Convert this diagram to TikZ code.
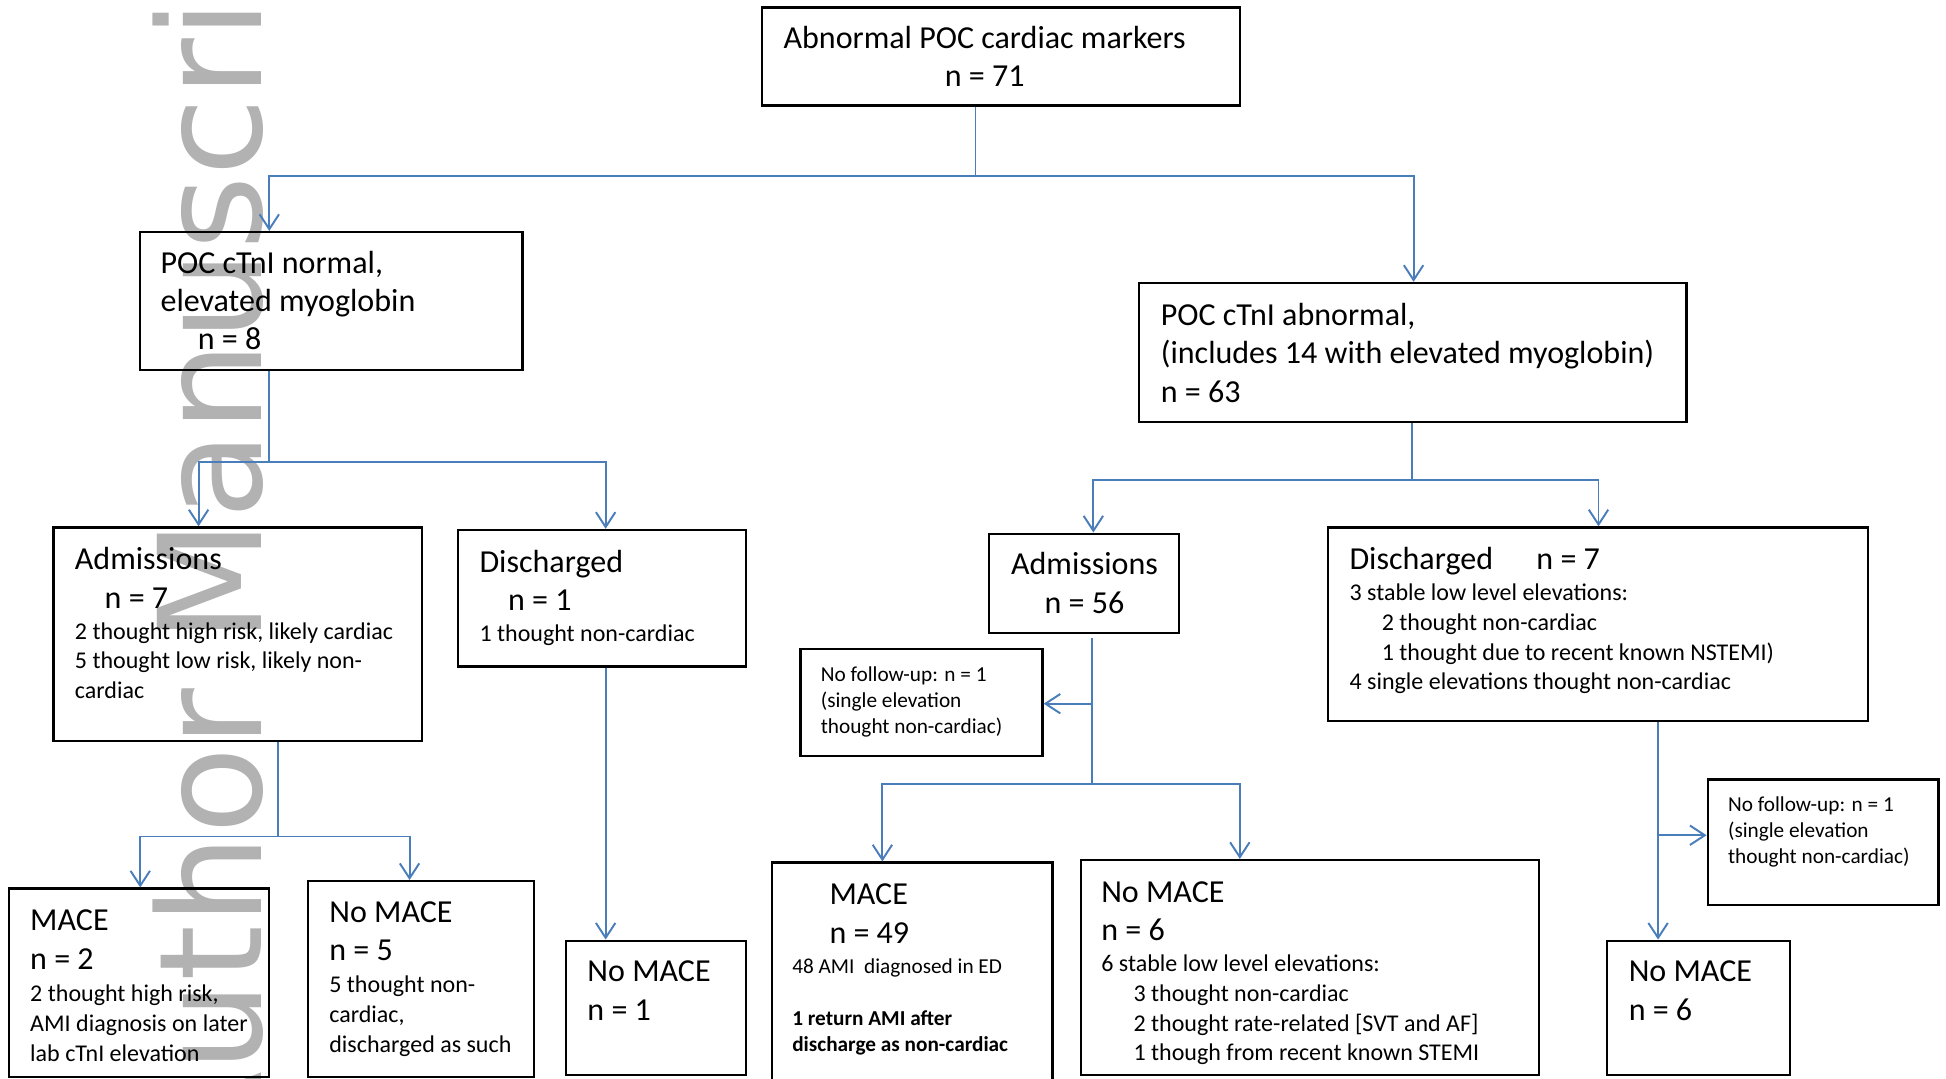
\documentclass[tikz,border=0pt]{standalone}
\usepackage{fontspec}
\setmainfont{Carlito}
\newfontfamily\wmfont{DejaVu Sans}
\usetikzlibrary{arrows.meta,fit}
\definecolor{lineblue}{RGB}{74,126,187}
\newdimen\px \px=0.5426pt
\begin{document}
\begin{tikzpicture}[x=0.5426pt, y=-0.5426pt,
  box/.style={draw=black, line width=1pt, inner sep=0pt},
  conn/.style={draw=lineblue, line width=0.85pt},
  arr/.style={conn, -{Straight Barb[length=6.5pt, width=8.5pt]}},
  big/.style={inner sep=0pt, anchor=base west, font=\fontsize{14}{16.8}\selectfont},
  small/.style={inner sep=0pt, anchor=base west, font=\fontsize{10.5}{13}\selectfont},
  tiny/.style={inner sep=0pt, anchor=base west, font=\fontsize{9.3}{11.4}\selectfont},
  wm/.style={inner sep=0pt, text=black!30, font=\wmfont\fontsize{62.5}{62.5}\selectfont}
]
\useasboundingbox (0,0) rectangle (1568,869);

% watermark
\node[wm, rotate=90, anchor=base west] (wm) at (211,943) {Author Manuscript};

% boxes
\node[box, fit={(614,6) (999,85)}] (top) {};
\node[box, fit={(113,187) (421,298)}] (A) {};
\node[box, fit={(918,228) (1359,340)}] (B) {};
\node[box, fit={(43,425) (340,597)}] (C) {};
\node[box, fit={(369,427) (601,537)}] (D) {};
\node[box, fit={(7,716) (217,867.5)}] (E) {};
\node[box, fit={(248,710) (430,867.5)}] (F) {};
\node[box, fit={(456,758) (601,866)}] (G) {};
\node[box, fit={(797,430) (950,510)}] (H) {};
\node[box, fit={(1070,425) (1505,581)}] (I) {};
\node[box, fit={(645,523) (840,609)}] (J) {};
\node[box, fit={(622,695) (848,875)}] (K) {};
\node[box, fit={(871,693) (1240,866)}] (L) {};
\node[box, fit={(1295,758) (1442,866)}] (M) {};
\node[box, fit={(1376,628) (1562,729)}] (N) {};

% texts
\node[big] (topt) at (630,39) {\parbox[t]{326\px}{\centering Abnormal POC cardiac markers\\ n = 71}};
\node[big] (At) at (129,220) {\parbox[t]{290\px}{POC cTnI normal,\\ elevated myoglobin\\ \hspace*{30\px}n = 8}};
\node[big] (Bt) at (935,262) {\parbox[t]{420\px}{POC cTnI abnormal,\\ (includes 14 with elevated myoglobin)\\ n = 63}};
\node[big] (Ct) at (60,459) {\parbox[t]{270\px}{Admissions\\ \hspace*{24\px}n = 7}};
\node[small] (Cs) at (60,515) {\parbox[t]{275\px}{2 thought high risk, likely cardiac\\ 5 thought low risk, likely non-\\ cardiac}};
\node[big] (Dt) at (386,461) {\parbox[t]{210\px}{Discharged\\ \hspace*{23\px}n = 1}};
\node[small] (Ds) at (386,517) {1 thought non-cardiac};
\node[big] (Et) at (24,750) {\parbox[t]{190\px}{MACE\\ n = 2}};
\node[small] (Es) at (24,807) {\parbox[t]{190\px}{2 thought high risk,\\ AMI diagnosis on later\\ lab cTnI elevation}};
\node[big] (Ft) at (265,743) {\parbox[t]{160\px}{No MACE\\ n = 5}};
\node[small] (Fs) at (265,800) {\parbox[t]{160\px}{5 thought non-\\ cardiac,\\ discharged as such}};
\node[big] (Gt) at (473,791) {\parbox[t]{125\px}{No MACE\\ n = 1}};
\node[big] (Ht) at (797,463) {\parbox[t]{153\px}{\centering Admissions\\ n = 56}};
\node[big] (It) at (1087,459) {Discharged\hspace{35\px}n = 7};
\node[small] (Is) at (1087,484) {\parbox[t]{410\px}{3 stable low level elevations:\\ \hspace*{26\px}2 thought non-cardiac\\ \hspace*{26\px}1 thought due to recent known NSTEMI)\\ 4 single elevations thought non-cardiac}};
\node[tiny] (Jt) at (661,549) {\parbox[t]{175\px}{No follow-up: n = 1\\ (single elevation\\ thought non-cardiac)}};
\node[big] (Kt) at (668,729) {\parbox[t]{170\px}{MACE\\ n = 49}};
\node[tiny] (Ks) at (638,784) {\parbox[t]{205\px}{48 AMI\ \ diagnosed in ED\\[\baselineskip] \bfseries 1 return AMI after\\ discharge as non-cardiac}};
\node[big] (Lt) at (887,727) {\parbox[t]{340\px}{No MACE\\ n = 6}};
\node[small] (Ls) at (887,783) {\parbox[t]{345\px}{6 stable low level elevations:\\ \hspace*{26\px}3 thought non-cardiac\\ \hspace*{26\px}2 thought rate-related [SVT and AF]\\ \hspace*{26\px}1 though from recent known STEMI}};
\node[big] (Mt) at (1312,791) {\parbox[t]{125\px}{No MACE\\ n = 6}};
\node[tiny] (Nt) at (1392,654) {\parbox[t]{165\px}{No follow-up: n = 1\\ (single elevation\\ thought non-cardiac)}};

% connectors
\coordinate (s1) at (786,142);
\coordinate (s1l) at (217,142);
\coordinate (s1r) at (1139,142);
\draw[conn] (top.south -| s1) -- (s1);
\draw[arr] (s1) -- (s1l) -- (s1l |- A.north);
\draw[arr] (s1) -- (s1r) -- (s1r |- B.north);

\coordinate (s2) at (217,372);
\coordinate (s2l) at (160,372);
\coordinate (s2r) at (488,372);
\draw[conn] (A.south -| s2) -- (s2);
\draw[arr] (s2) -- (s2l) -- (s2l |- C.north);
\draw[arr] (s2) -- (s2r) -- (s2r |- D.north);
\draw[arr] (D.south -| s2r) -- (s2r |- G.north);

\coordinate (s3) at (224,674);
\coordinate (s3l) at (113,674);
\coordinate (s3r) at (330,674);
\draw[conn] (C.south -| s3) -- (s3);
\draw[arr] (s3) -- (s3l) -- (s3l |- E.north);
\draw[arr] (s3) -- (s3r) -- (s3r |- F.north);

\coordinate (s5) at (1138,387);
\coordinate (s5l) at (881,387);
\coordinate (s5r) at (1288,387);
\draw[conn] (B.south -| s5) -- (s5);
\draw[arr] (s5) -- (s5l) -- (s5l |- H.north);
\draw[arr] (s5) -- (s5r) -- (s5r |- I.north);

\coordinate (s6) at (880,632);
\coordinate (s6b) at (880,567);
\coordinate (s6t) at (880,514);
\coordinate (s6l) at (711,632);
\coordinate (s6r) at (999,632);
\draw[conn] (s6t) -- (s6);
\draw[arr] (s6b) -- (s6b -| J.east);
\draw[arr] (s6) -- (s6l) -- (s6l |- K.north);
\draw[arr] (s6) -- (s6r) -- (s6r |- L.north);

\coordinate (s7) at (1336,673);
\draw[arr] (I.south -| s7) -- (s7 |- M.north);
\draw[arr] (s7) -- (s7 -| N.west);
\end{tikzpicture}
\end{document}
